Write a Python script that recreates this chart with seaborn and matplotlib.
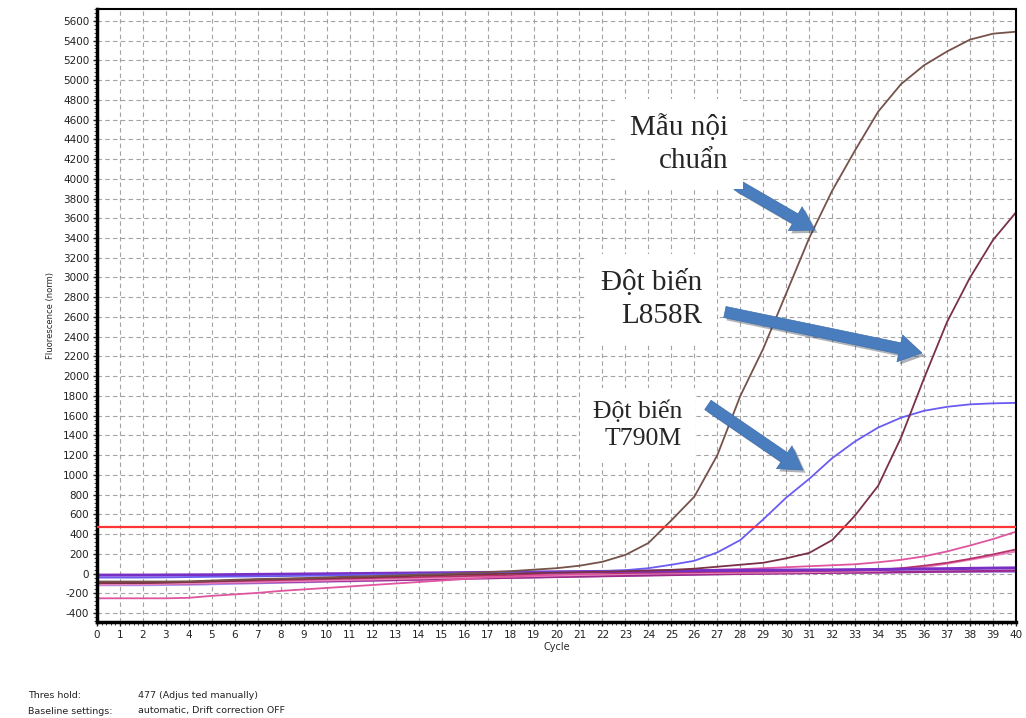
import matplotlib
matplotlib.use("Agg")
import matplotlib.pyplot as plt
import matplotlib.patheffects as pe
from matplotlib.ticker import MultipleLocator
import pandas as pd
import seaborn as sns

# Dữ liệu đọc từ đồ thị real-time PCR
cycles = list(range(41))

noi_chuan = [-80, -80, -80, -80, -78, -70, -62, -55, -50, -45, -38, -30, -25, -18, -10, -5,
             5, 15, 25, 40, 55, 80, 120, 190, 310, 540, 780, 1200, 1800, 2280, 2840, 3400,
             3880, 4290, 4680, 4960, 5150, 5290, 5410, 5470, 5490]
l858r = [-95, -95, -95, -90, -85, -75, -70, -60, -55, -50, -45, -40, -35, -30, -20, -15,
         -10, -5, 0, 5, 10, 15, 20, 25, 30, 38, 50, 70, 90, 110, 155, 210,
         340, 590, 890, 1380, 1980, 2550, 3000, 3380, 3660]
t790m = [-40, -40, -40, -38, -35, -32, -30, -28, -25, -22, -20, -15, -12, -10, -5, 0,
         2, 5, 8, 10, 12, 18, 25, 35, 55, 90, 130, 215, 340, 550, 770, 960,
         1170, 1340, 1480, 1580, 1650, 1690, 1715, 1725, 1730]
hong = [-250, -250, -250, -250, -245, -225, -210, -195, -175, -160, -145, -130, -115, -100,
        -85, -70, -55, -40, -30, -20, -10, 0, 10, 20, 25, 30, 35, 40, 45, 55,
        65, 75, 85, 95, 115, 140, 175, 225, 285, 350, 425]
do_tham = [-90, -90, -90, -88, -85, -80, -75, -70, -65, -60, -55, -50, -45, -40, -35, -30,
           -25, -20, -15, -10, -5, 0, 3, 6, 9, 12, 15, 18, 20, 22, 24, 27,
           30, 33, 38, 55, 80, 110, 150, 195, 245]
hong_nhat = [-110, -110, -108, -105, -100, -95, -90, -85, -80, -75, -70, -65, -60, -55, -50,
             -45, -40, -35, -30, -25, -20, -15, -10, -5, 0, 2, 4, 6, 8, 10, 12, 15,
             18, 22, 28, 40, 65, 100, 140, 180, 225]
tim = [-15, -15, -15, -14, -13, -12, -10, -8, -6, -4, -2, 0, 2, 4, 6, 8,
       10, 12, 14, 16, 18, 20, 22, 24, 26, 28, 30, 32, 34, 35, 36, 37,
       38, 40, 42, 45, 48, 50, 53, 56, 58]
tim_nhat = [-115, -115, -115, -112, -110, -105, -100, -95, -90, -85, -80, -75, -70, -65, -60,
            -55, -50, -45, -40, -35, -30, -26, -22, -18, -14, -10, -6, -3, 0, 3, 6, 8,
            10, 12, 14, 16, 18, 19, 20, 20, 20]
tim_dam = [-100, -100, -100, -100, -100, -95, -90, -88, -85, -80, -75, -72, -68, -64, -60,
           -55, -50, -46, -42, -38, -34, -30, -26, -22, -18, -14, -10, -6, -3, 0, 3, 6,
           8, 10, 12, 15, 18, 21, 24, 27, 30]

nguong = 477

mau = ["noi_chuan", "l858r", "t790m", "hong", "do_tham", "hong_nhat", "tim", "tim_nhat", "tim_dam"]
gia_tri = [noi_chuan, l858r, t790m, hong, do_tham, hong_nhat, tim, tim_nhat, tim_dam]
mau_sac = {"noi_chuan": "#75524a", "l858r": "#7a3045", "t790m": "#6a5cf0", "hong": "#e0559f",
           "do_tham": "#b8306a", "hong_nhat": "#e882ba", "tim": "#7a2fc4",
           "tim_nhat": "#a98be8", "tim_dam": "#9d2a8a"}
do_day = {"tim": 2.2, "tim_dam": 1.6, "tim_nhat": 1.8}

rows = []
for ten, vals in zip(mau, gia_tri):
    for c, v in zip(cycles, vals):
        rows.append({"Cycle": c, "Fluorescence": v, "Sample": ten})
df = pd.DataFrame(rows)

sns.set_style("white")
plt.rcParams["font.family"] = ["DejaVu Sans"]
plt.rcParams["axes.unicode_minus"] = False

fig = plt.figure(figsize=(10.26, 7.18), dpi=100)
ax = fig.add_axes([97 / 1026, 1 - 622 / 718, (1016 - 97) / 1026, (622 - 9) / 718])

# vẽ các đường nền trước, đường khuếch đại sau
for ten in ["tim_nhat", "tim_dam", "hong_nhat", "do_tham", "hong", "tim", "t790m", "l858r", "noi_chuan"]:
    sns.lineplot(data=df[df["Sample"] == ten], x="Cycle", y="Fluorescence", color=mau_sac[ten],
                 linewidth=do_day.get(ten, 1.3), ax=ax, legend=False)

ax.axhline(nguong, color="#ff3535", linewidth=1.6, zorder=3)

ax.set_xlim(0, 40)
ax.set_ylim(-490, 5720)
ax.set_xticks(range(0, 41))
ax.set_yticks(range(-400, 5601, 200))
ax.xaxis.set_minor_locator(MultipleLocator(0.2))
ax.yaxis.set_minor_locator(MultipleLocator(40))
ax.tick_params(axis="both", which="major", direction="out", length=3, width=1,
               labelsize=7.5, pad=2.5, colors="#222222", bottom=True, left=True)
ax.tick_params(axis="both", which="minor", direction="out", length=2, width=0.6,
               bottom=True, left=True)
ax.grid(True, which="major", color="#a3a3a3", linestyle=(0, (4, 3)), linewidth=0.8)
ax.set_axisbelow(True)

for s in ["top", "right"]:
    ax.spines[s].set_linewidth(1.5)
    ax.spines[s].set_color("black")
for s in ["left", "bottom"]:
    ax.spines[s].set_linewidth(2.5)
    ax.spines[s].set_color("black")

ax.set_xlabel("Cycle", fontsize=7, labelpad=2)
ax.set_ylabel("Fluorescence (norm)", fontsize=6, labelpad=6)

# chú thích và mũi tên
chu_serif = ["Liberation Serif", "DejaVu Serif"]
hop = dict(facecolor="white", edgecolor="none", boxstyle="square,pad=0.5")
fig.text(728 / 1026, 1 - 168 / 718, "Mẫu nội\nchuẩn", family=chu_serif, fontsize=21,
         ha="right", va="baseline", multialignment="right", linespacing=1.35, bbox=hop, zorder=5)
fig.text(702 / 1026, 1 - 323 / 718, "Đột biến\nL858R", family=chu_serif, fontsize=21,
         ha="right", va="baseline", multialignment="right", linespacing=1.35, bbox=hop, zorder=5)
fig.text(682 / 1026, 1 - 445 / 718, "Đột biến\nT790M", family=chu_serif, fontsize=18.5,
         ha="right", va="baseline", multialignment="right", linespacing=1.3, bbox=hop, zorder=5)

mui_ten = [((27.85, 3938), (31.24, 3481)),
           ((27.33, 2650), (35.9, 2236)),
           ((26.59, 1709), (30.72, 1050))]
for goc, dinh in mui_ten:
    ax.annotate("", xy=dinh, xytext=goc, zorder=6,
                arrowprops=dict(arrowstyle="simple,head_length=0.9,head_width=1.1,tail_width=0.45",
                                fc="#4a7dbd", ec="#3f6fae", lw=0.5, mutation_scale=18,
                                shrinkA=0, shrinkB=0,
                                path_effects=[pe.withSimplePatchShadow(offset=(2, -2), alpha=0.35)]))

fig.text(28 / 1026, 1 - 695 / 718, "Thres hold:", fontsize=6.8, va="center", color="#222222")
fig.text(138 / 1026, 1 - 695 / 718, "477 (Adjus ted manually)", fontsize=6.8, va="center", color="#222222")
fig.text(28 / 1026, 1 - 711 / 718, "Baseline settings:", fontsize=6.8, va="center", color="#222222")
fig.text(138 / 1026, 1 - 711 / 718, "automatic, Drift correction OFF", fontsize=6.8, va="center", color="#222222")

fig.savefig("out.png", dpi=100)
